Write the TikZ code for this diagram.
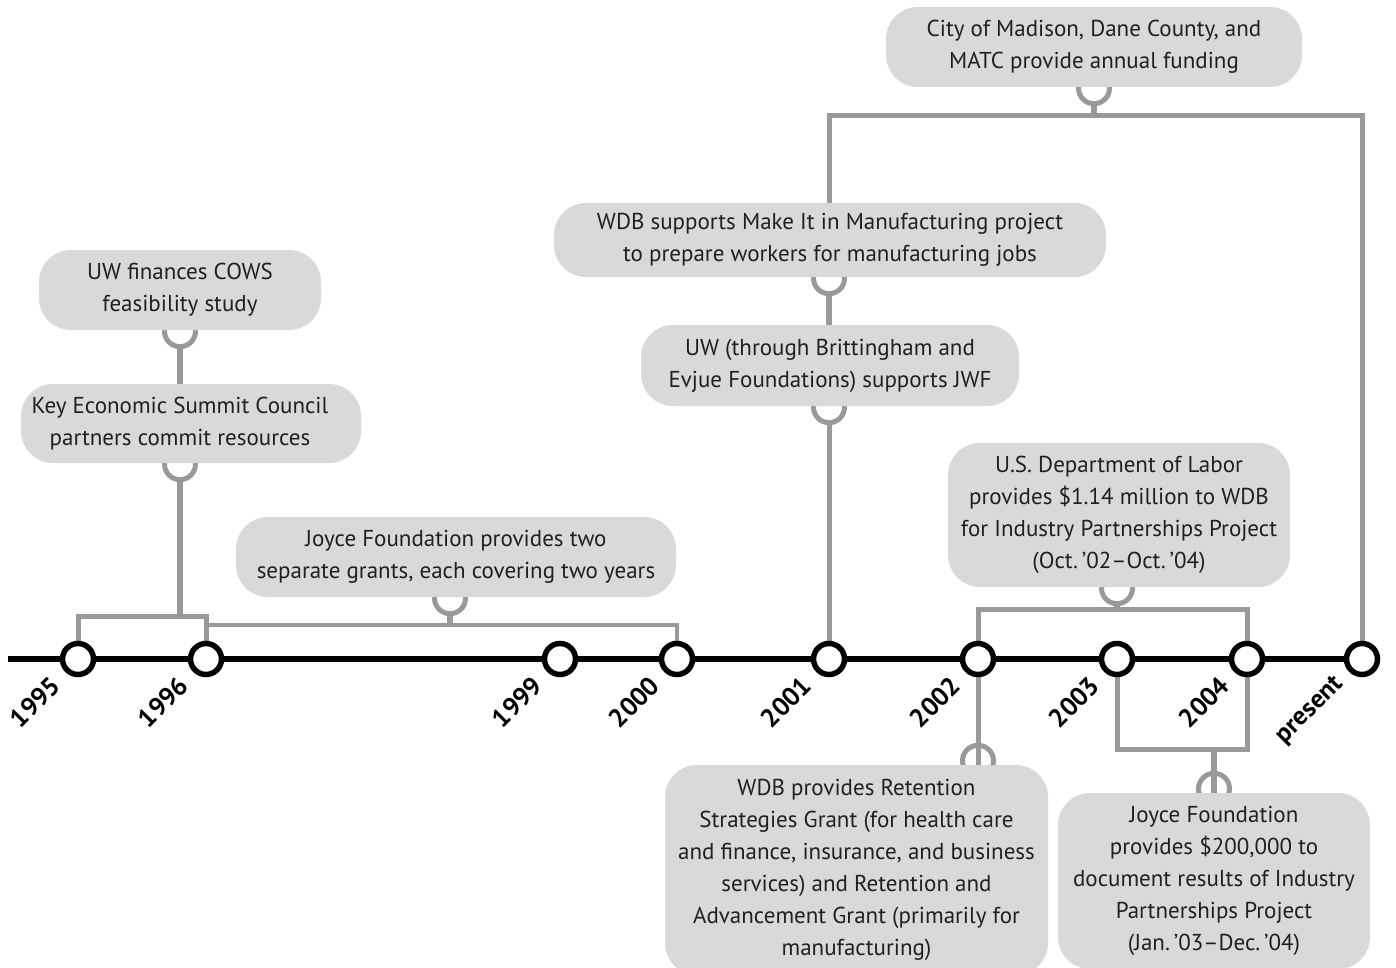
\documentclass[tikz,border=0pt]{standalone}
\usepackage{fontspec}
\setmainfont{PT Sans}
\usetikzlibrary{backgrounds,calc}
\definecolor{boxfill}{HTML}{D9D9D9}
\definecolor{conn}{HTML}{999999}
\definecolor{txt}{HTML}{231F20}
\begin{document}
\begin{tikzpicture}[x=1pt,y=-1pt,
  evbox/.style={fill=boxfill, rounded corners=32pt, inner sep=0pt, align=center,
    font=\fontsize{23}{32}\selectfont, text=txt},
  evtext/.style={inner sep=0pt, align=center, font=\fontsize{23}{32}\selectfont, text=txt},
  conline/.style={draw=conn, line width=5pt},
  stemline/.style={draw=conn, line width=6.5pt},
  thinline/.style={draw=conn, line width=3.5pt},
  cupline/.style={draw=conn, line width=5pt},
  yr/.style={draw=black, fill=white, circle, line width=5.5pt, minimum size=31pt, inner sep=0pt},
  yrlab/.style={font=\bfseries\fontsize{26}{28}\selectfont, rotate=45, anchor=east, inner sep=0pt}
]
\useasboundingbox (0,0) rectangle (1396,968);

% boxes
\node[evbox, minimum width=416pt, minimum height=80pt] (city) at (1094,47)
  {City of Madison, Dane County, and\\MATC provide annual funding};
\node[evbox, minimum width=552pt, minimum height=74pt] (wdbmake) at (830,240)
  {WDB supports Make It in Manufacturing project\\to prepare workers for manufacturing jobs};
\node[evbox, minimum width=378pt, minimum height=81pt] (uwbritt) at (830,365.5)
  {UW (through Brittingham and\\Evjue Foundations) supports JWF};
\node[evbox, minimum width=282pt, minimum height=80pt] (cows) at (180,290)
  {UW finances COWS\\feasibility study};
\node[evbox, minimum width=340pt, minimum height=79pt] (key) at (191,423.5) {};
\node[evtext] (keyT) at (180,423.5) {Key Economic Summit Council\\partners commit resources};
\node[evbox, minimum width=440pt, minimum height=80pt] (joycetwo) at (456,557)
  {Joyce Foundation provides two\\separate grants, each covering two years};
\node[evbox, minimum width=342pt, minimum height=144pt] (usdol) at (1119,515)
  {U.S. Department of Labor\\provides \$1.14 million to WDB\\for Industry Partnerships Project\\(Oct.\,’02–Oct.\,’04)};
\node[evbox, minimum width=383pt, minimum height=210pt] (wdbret) at (856.5,870)
  {WDB provides Retention\\Strategies Grant (for health care\\and finance, insurance, and business\\services) and Retention and\\Advancement Grant (primarily for\\manufacturing)};
\node[evbox, minimum width=312pt, minimum height=176pt] (joyce200) at (1214,881)
  {Joyce Foundation\\provides \$200,000 to\\document results of Industry\\Partnerships Project\\(Jan.\,’03–Dec.\,’04)};

% timeline
\coordinate (tlstart) at (8,659);
\node[yr] (y1995) at (78,659) {};
\node[yr] (y1996) at (206,659) {};
\node[yr] (y1999) at (560,659) {};
\node[yr] (y2000) at (677,659) {};
\node[yr] (y2001) at (829,659) {};
\node[yr] (y2002) at (978,659) {};
\node[yr] (y2003) at (1117,659) {};
\node[yr] (y2004) at (1247,659) {};
\node[yr] (ypres) at (1362,659) {};

% year labels
\foreach \n/\t in {y1995/1995, y1996/1996, y1999/1999, y2000/2000, y2001/2001, y2002/2002, y2003/2003, y2004/2004, ypres/present}
  \node[yrlab] (l\n) at ([shift={(-22,22)}]\n.center) {\t};

% cup x positions and bracket levels
\coordinate (cx180) at (180,0);
\coordinate (cx450) at (450,0);
\coordinate (cx1117) at (1117,0);
\coordinate (cx1094) at (1094,0);
\coordinate (cx829) at (829,0);
\coordinate (cx978) at (978,0);
\coordinate (cx1214) at (1214,0);
\coordinate (b95) at (78,616);
\coordinate (b96) at (206,616);
\coordinate (keyst) at (180,616);
\coordinate (j96) at (206,625);
\coordinate (j00) at (677,625);
\coordinate (jst) at (450,625);
\coordinate (d02) at (978,609);
\coordinate (d04) at (1247,609);
\coordinate (dst) at (1117,609);
\coordinate (c01) at (829,116);
\coordinate (cpr) at (1362,116);
\coordinate (cst) at (1094,116);
\coordinate (e03) at (1117,749);
\coordinate (e04) at (1247,749);
\coordinate (est) at (1214,749);

\begin{scope}[on background layer]
  % timeline line
  \draw[black, line width=5.5pt] (tlstart) -- (ypres.center);
  % cups (circles partly hidden by boxes)
  \draw[cupline] ([yshift=-1pt]cows.south -| cx180) circle[radius=15.5pt];
  \draw[cupline] ([yshift=-1pt]key.south -| cx180) circle[radius=15.5pt];
  \draw[cupline] ([yshift=-1pt]joycetwo.south -| cx450) circle[radius=15.5pt];
  \draw[cupline] ([yshift=-1pt]usdol.south -| cx1117) circle[radius=15.5pt];
  \draw[cupline] ([yshift=-1pt]city.south -| cx1094) circle[radius=15.5pt];
  \draw[cupline] ([yshift=-1pt]wdbmake.south -| cx829) circle[radius=15.5pt];
  \draw[cupline] ([yshift=-1pt]uwbritt.south -| cx829) circle[radius=15.5pt];
  \draw[cupline] ([yshift=4pt]wdbret.north -| cx978) circle[radius=15.5pt];
  \draw[cupline] ([yshift=4pt]joyce200.north -| cx1214) circle[radius=15.5pt];
  % stems
  \draw[stemline] ([yshift=-16pt]cows.south -| cx180) -- (key.north -| cx180);
  \draw[stemline] ([yshift=-16pt]key.south -| cx180) -- (keyst);
  \draw[stemline] ([yshift=-16pt]joycetwo.south -| cx450) -- (jst);
  \draw[stemline] ([yshift=-16pt]usdol.south -| cx1117) -- (dst);
  \draw[stemline] ([yshift=-16pt]city.south -| cx1094) -- (cst);
  \draw[stemline] ([yshift=-16pt]wdbmake.south -| cx829) -- (uwbritt.north -| cx829);
  \draw[conline] ([yshift=-16pt]uwbritt.south -| cx829) -- (y2001.center);
  \draw[conline] (y2002.center) -- ([yshift=-12pt]wdbret.north -| cx978);
  \draw[stemline] (est) -- ([yshift=-12pt]joyce200.north -| cx1214);
  % brackets
  \draw[conline] (y1995.center) -- (b95) -- (b96) -- (y1996.center);
  \draw[thinline] (j96) -- (j00) -- (y2000.center);
  \draw[conline] (y2002.center) -- (d02) -- (d04) -- (y2004.center);
  \draw[conline] (wdbmake.north -| c01) -- (c01) -- (cpr) -- (ypres.center);
  \draw[conline] (y2003.center) -- (e03) -- (e04) -- (y2004.center);
\end{scope}
\end{tikzpicture}
\end{document}
